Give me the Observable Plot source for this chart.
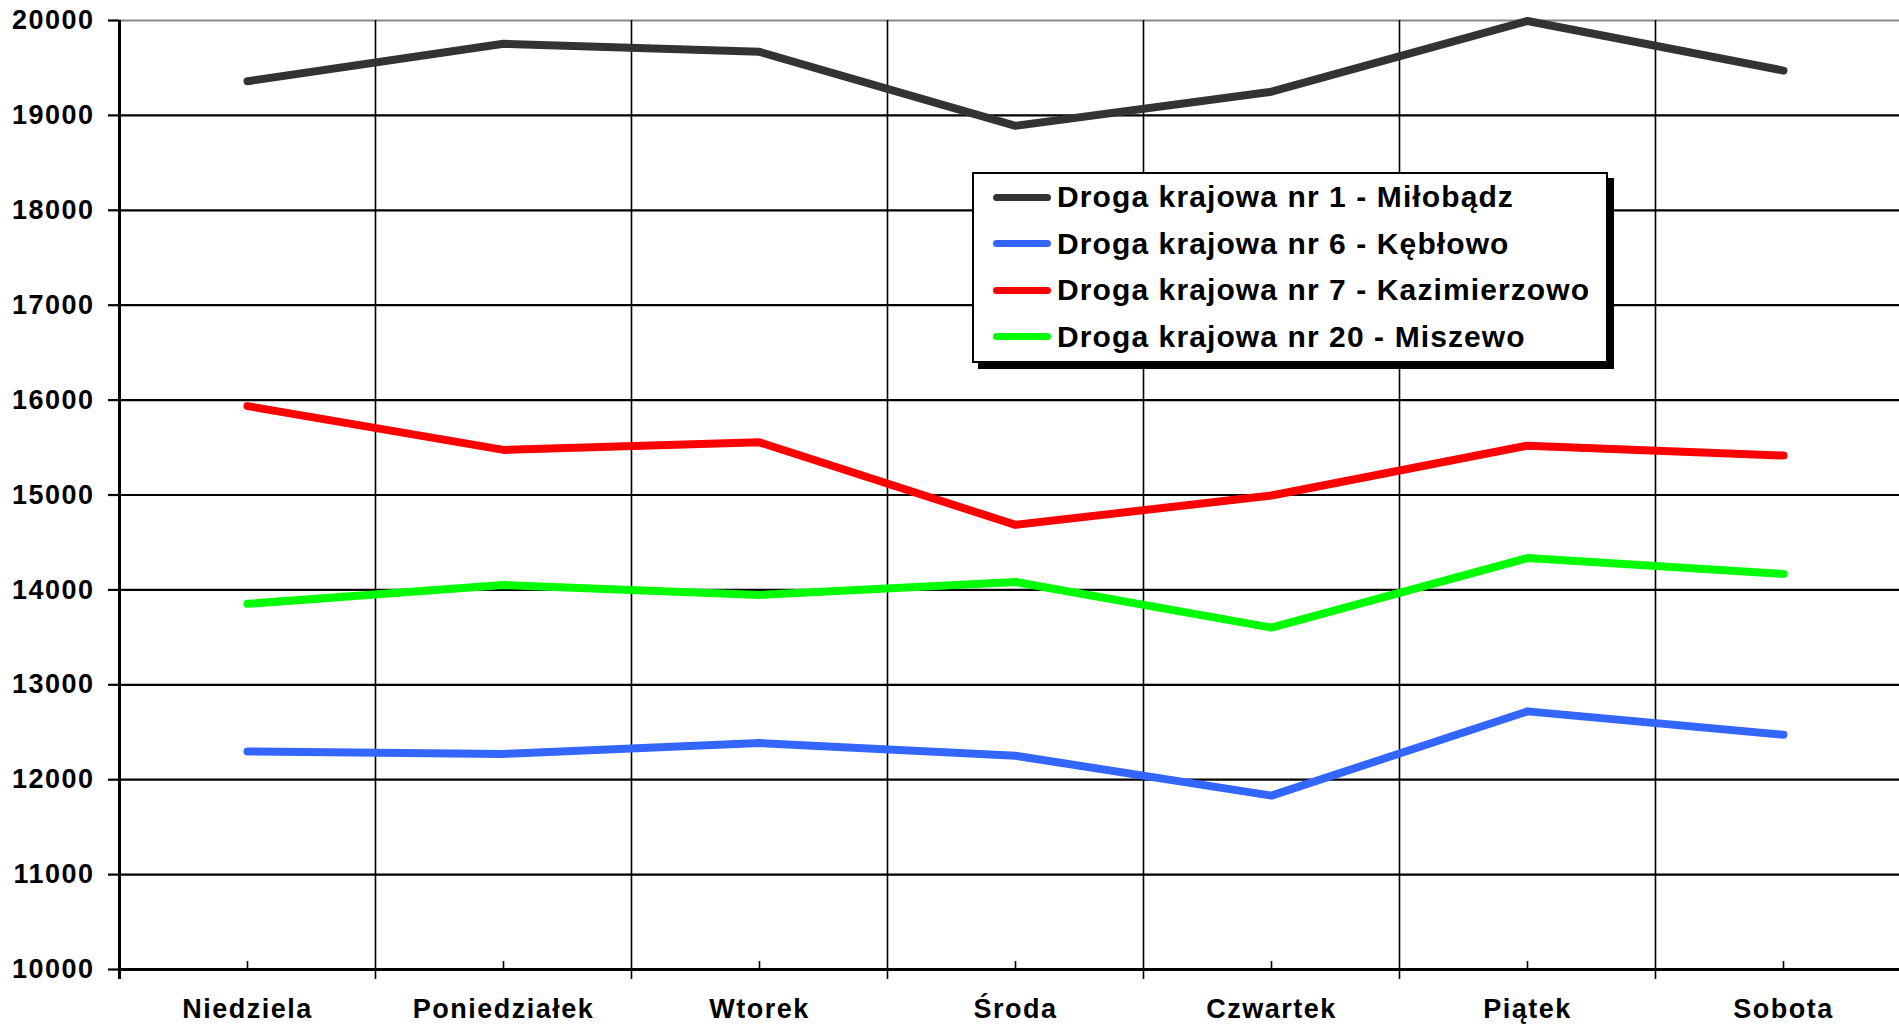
<!DOCTYPE html>
<html>
<head>
<meta charset="utf-8">
<script src="https://cdn.jsdelivr.net/npm/d3@7"></script>
<script src="https://cdn.jsdelivr.net/npm/@observablehq/plot@0.6"></script>
<style>
  html, body { margin: 0; padding: 0; background: #fff; overflow: hidden; }
  #wrap { position: relative; width: 1899px; height: 1027px; overflow: hidden; }
  #wrap svg text { letter-spacing: 1.5px; }
  #legend {
    position: absolute; left: 972px; top: 172px; width: 632px; height: 187px;
    border: 2px solid #000; background: #fff; box-shadow: 6px 6px 0 #000;
    font-family: "Liberation Sans", Arial, sans-serif; font-weight: bold; font-size: 30px;
    letter-spacing: 1.1px; color: #000;
  }
  .row { height: 46.5px; display: flex; align-items: center; }
  .swatch { width: 58px; height: 7px; border-radius: 4px; margin-left: 19px; margin-right: 6px; flex: none; }
</style>
</head>
<body>
<div id="wrap"></div>
<script>
const days = ["Niedziela", "Poniedziałek", "Wtorek", "Środa", "Czwartek", "Piątek", "Sobota"];
const yTicks = [10000, 11000, 12000, 13000, 14000, 15000, 16000, 17000, 18000, 19000, 20000];
const seriesNames = [
  "Droga krajowa nr 1 - Miłobądz",
  "Droga krajowa nr 6 - Kębłowo",
  "Droga krajowa nr 7 - Kazimierzowo",
  "Droga krajowa nr 20 - Miszewo"
];
const seriesColors = ["#333333", "#3366ff", "#ff0000", "#00ff00"];
const dk1 = [19360, 19755, 19670, 18890, 19250, 19995, 19472];
const dk6 = [12298, 12272, 12386, 12252, 11832, 12720, 12474];
const dk7 = [15937, 15475, 15555, 14685, 14995, 15520, 15416];
const dk20 = [13853, 14052, 13947, 14083, 13602, 14335, 14168];

const seriesValues = [dk1, dk6, dk7, dk20];
const rows = [];
seriesValues.forEach((vals, s) => vals.forEach((v, i) => rows.push({series: seriesNames[s], i, v})));

const idx = days.map((_, i) => i);
const boundaries = idx.slice(1).map(i => i - 0.5);
const innerTicks = yTicks.filter(t => t !== yTicks[0] && t !== yTicks[yTicks.length - 1]);
const font = "Liberation Sans, Arial, sans-serif";

const chart = Plot.plot({
  width: 1899,
  height: 1027,
  marginLeft: 119,
  marginRight: 0,
  marginTop: 20,
  marginBottom: 58,
  style: {fontFamily: font, fontWeight: "bold", fontSize: "27px", color: "#000", background: "#fff", overflow: "hidden"},
  x: {type: "linear", domain: [-0.5, days.length - 0.5], range: [119, 1911], label: null},
  y: {domain: [yTicks[0], yTicks[yTicks.length - 1]], label: null},
  color: {domain: seriesNames, range: seriesColors},
  marks: [
    Plot.ruleY(innerTicks, {stroke: "#000", strokeWidth: 2.2}),
    Plot.ruleY([yTicks[yTicks.length - 1]], {stroke: "#888", strokeWidth: 2.2}),
    Plot.ruleX(boundaries, {stroke: "#000", strokeWidth: 1.6, insetBottom: -10}),
    Plot.ruleX(idx, {x: d => d, y1: yTicks[0], y2: yTicks[0], insetTop: -8, stroke: "#000", strokeWidth: 1.6}),
    Plot.ruleY([yTicks[0]], {stroke: "#000", strokeWidth: 3}),
    Plot.ruleX([-0.5], {stroke: "#000", strokeWidth: 3, insetBottom: -10}),
    Plot.axisY({ticks: yTicks, tickFormat: d => String(d), tickSize: 11, tickPadding: 14, fontSize: 27, fontWeight: "bold", stroke: "#000", strokeWidth: 2.2, label: null}),
    Plot.axisX({ticks: idx, tickFormat: i => days[i], tickSize: 0, tickPadding: 29, fontSize: 27, fontWeight: "bold", label: null}),
    Plot.line(rows, {x: "i", y: "v", z: "series", stroke: "series", strokeWidth: 8, strokeLinecap: "round", strokeLinejoin: "round"})
  ]
});

const wrap = document.getElementById("wrap");
wrap.appendChild(chart);

const legend = document.createElement("div");
legend.id = "legend";
seriesNames.forEach((name, s) => {
  const row = document.createElement("div");
  row.className = "row";
  const sw = document.createElement("span");
  sw.className = "swatch";
  sw.style.background = seriesColors[s];
  const t = document.createElement("span");
  t.textContent = name;
  row.appendChild(sw);
  row.appendChild(t);
  legend.appendChild(row);
});
wrap.appendChild(legend);
</script>
</body>
</html>
